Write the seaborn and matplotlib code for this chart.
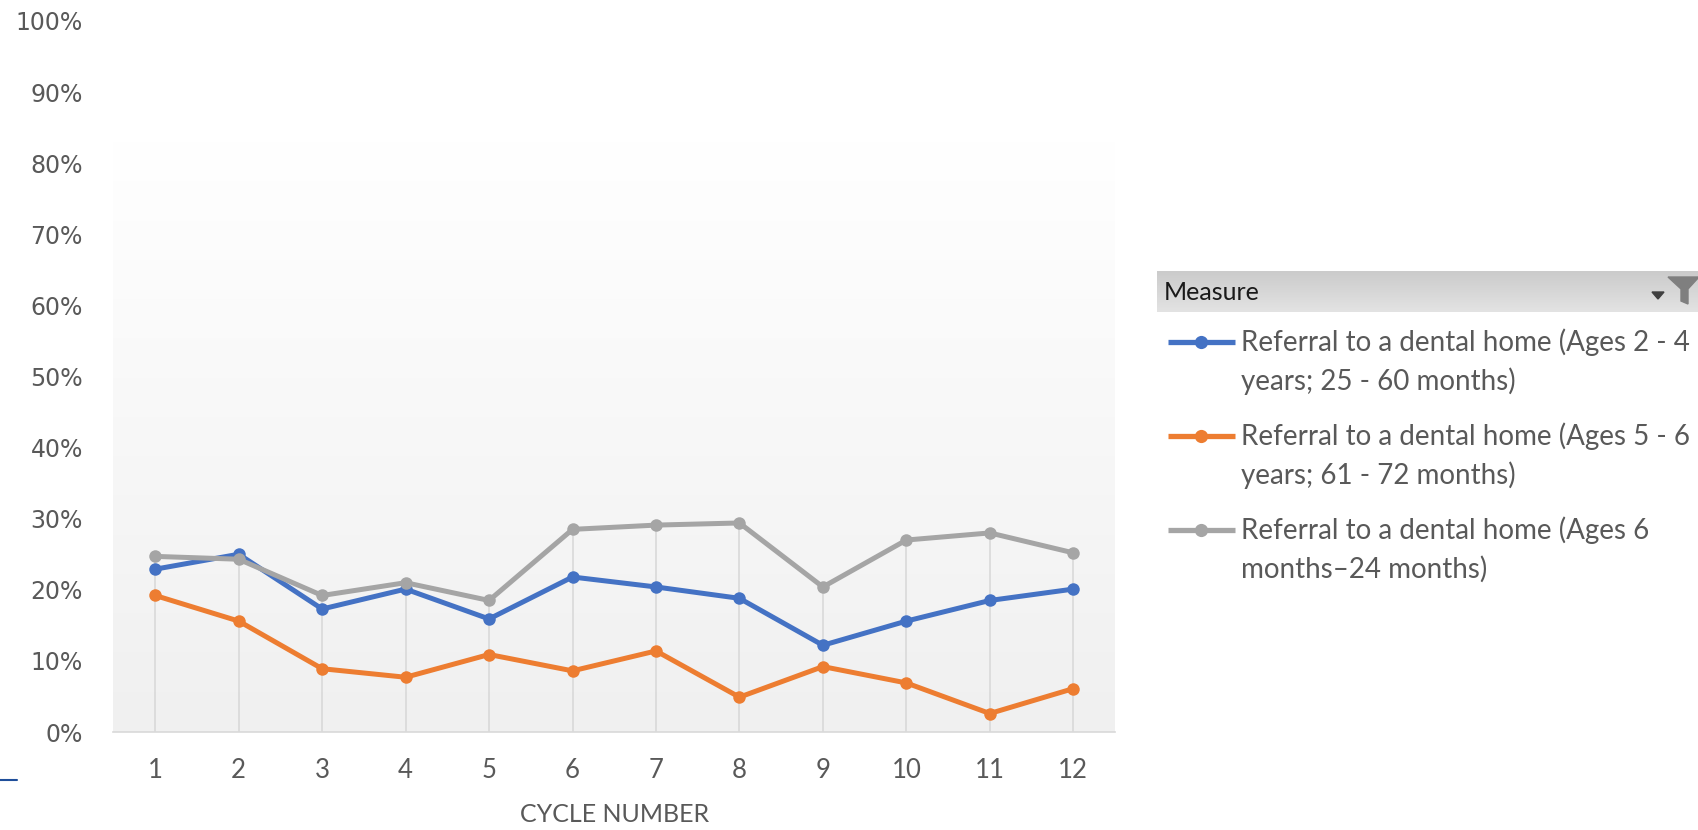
import numpy as np
import pandas as pd
import seaborn as sns
import matplotlib.pyplot as plt
from matplotlib.ticker import PercentFormatter
from matplotlib.colors import LinearSegmentedColormap
from matplotlib.patches import Polygon

# data
cycles = list(range(1, 13))
measures = [
    "Referral to a dental home (Ages 2 - 4\nyears; 25 - 60 months)",
    "Referral to a dental home (Ages 5 - 6\nyears; 61 - 72 months)",
    "Referral to a dental home (Ages 6\nmonths\u201324 months)",
]
ages_2_4 = [0.229, 0.250, 0.173, 0.201, 0.159, 0.218, 0.204, 0.188, 0.122, 0.156, 0.185, 0.201]
ages_5_6 = [0.192, 0.156, 0.089, 0.077, 0.109, 0.086, 0.114, 0.049, 0.092, 0.069, 0.026, 0.061]
ages_6m_24m = [0.247, 0.243, 0.192, 0.210, 0.185, 0.285, 0.291, 0.294, 0.204, 0.270, 0.280, 0.252]
colors = ["#4472C4", "#ED7D31", "#A5A5A5"]

df = pd.DataFrame({
    "cycle": cycles * 3,
    "value": ages_2_4 + ages_5_6 + ages_6m_24m,
    "measure": np.repeat(measures, len(cycles)),
})

sns.set_theme(style="white")
plt.rcParams["font.family"] = ["Lato", "DejaVu Sans"]

fig = plt.figure(figsize=(16.99, 8.30), dpi=100)
ax = fig.add_axes([113.5 / 1699, 98 / 830, 1001.5 / 1699, 711 / 830])

# plot area gradient (white top -> light grey bottom)
bg = LinearSegmentedColormap.from_list("bg", ["#ffffff", "#f0f0f0"])
ax.imshow(np.linspace(0, 1, 256).reshape(-1, 1), extent=(0.5, 12.5, 0, 0.831),
          aspect="auto", cmap=bg, origin="upper", zorder=0)

# drop lines
top = df.groupby("cycle")["value"].max()
ax.vlines(top.index, 0, top.values, color="#d9d9d9", lw=1.2, zorder=1)

sns.lineplot(data=df, x="cycle", y="value", hue="measure", hue_order=measures,
             palette=colors, marker="o", markersize=9, markeredgewidth=0,
             linewidth=3.6, legend=False, ax=ax, zorder=3)

ax.set_xlim(0.5, 12.5)
ax.set_ylim(0, 1)
ax.set_xticks(cycles)
ax.set_yticks(np.linspace(0, 1, 11))
ax.yaxis.set_major_formatter(PercentFormatter(1.0, decimals=0))
for s in ["top", "right", "left"]:
    ax.spines[s].set_visible(False)
ax.spines["bottom"].set_color("#d9d9d9")
ax.spines["bottom"].set_linewidth(1.2)
ax.tick_params(axis="both", length=0, colors="#595959")
ax.tick_params(axis="x", labelsize=18.5, pad=19)
ax.tick_params(axis="y", labelsize=17, pad=22)
for lbl in ax.get_yticklabels():
    lbl.set_fontfamily("DejaVu Sans")
ax.set_ylabel("")
ax.set_xlabel("CYCLE NUMBER", fontsize=18, color="#595959", labelpad=14)

# legend panel drawn in pixel coordinates
lax = fig.add_axes([1157 / 1699, 0, 542 / 1699, 1])
lax.set_xlim(1157, 1699)
lax.set_ylim(830, 0)
lax.axis("off")
hdr = LinearSegmentedColormap.from_list("hdr", ["#e3e3e3", "#cbcbcb"])
lax.imshow(np.linspace(0, 1, 64).reshape(-1, 1), extent=(1157, 1699, 312, 271),
           aspect="auto", cmap=hdr, origin="lower", zorder=0)
lax.text(1164, 292, "Measure", fontsize=18, color="#1a1a1a", va="center", ha="left")
lax.add_patch(Polygon([[1652, 292], [1664, 292], [1658, 299]], closed=True, color="#404040"))
lax.add_patch(Polygon([[1668, 277], [1699, 277], [1688, 289], [1688, 304], [1681, 301], [1681, 289]],
                      closed=True, color="#7f7f7f"))

for i, (label, color) in enumerate(zip(measures, colors)):
    y0 = 342 + i * 94
    lax.plot([1168, 1235], [y0, y0], color=color, lw=3.8, solid_capstyle="butt")
    lax.plot([1201], [y0], marker="o", color=color, markersize=9.5, markeredgewidth=0)
    for j, line in enumerate(label.split("\n")):
        lax.text(1241, y0 + j * 39, line, fontsize=20, color="#595959", va="center", ha="left")

# small artefact at the left edge of the screenshot
fig.add_artist(plt.Line2D([0, 17 / 1699], [1 - 780 / 830] * 2, color="#1f4e9a", lw=1.5))

fig.savefig("out.png", dpi=100)
plt.close(fig)
